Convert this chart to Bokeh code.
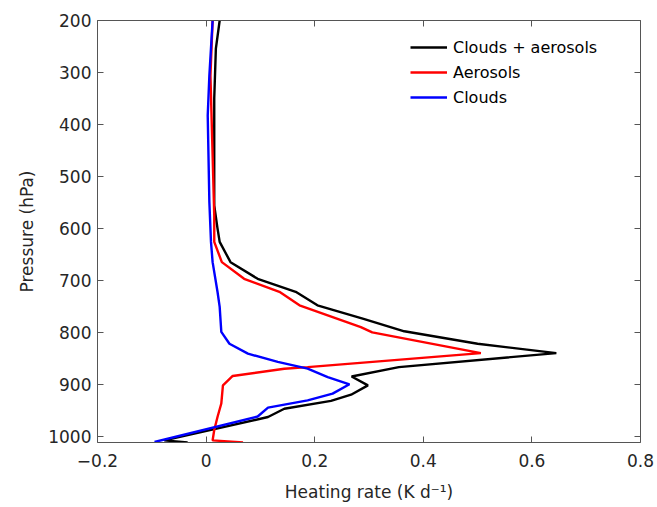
from bokeh.plotting import figure
from bokeh.models import Range1d, FixedTicker, LinearAxis, Legend, LegendItem
from bokeh.embed import file_html
from bokeh.resources import INLINE

# Clouds + aerosols
p_both = [200, 254, 350, 556, 600, 626, 665, 697, 722, 748, 774, 798, 822, 840, 867, 885, 902, 920, 932, 947, 963, 1008, 1012]
hr_both = [0.025, 0.018, 0.015, 0.015, 0.021, 0.025, 0.045, 0.095, 0.165, 0.205, 0.29, 0.365, 0.50, 0.645, 0.355, 0.268, 0.298, 0.267, 0.23, 0.144, 0.114, -0.077, -0.034]
# Aerosols
p_aer = [200, 306, 460, 575, 626, 665, 697, 722, 748, 790, 800, 840, 867, 870, 884, 902, 937, 963, 988, 1008, 1012]
hr_aer = [0.012, 0.008, 0.012, 0.015, 0.015, 0.029, 0.07, 0.135, 0.172, 0.285, 0.306, 0.506, 0.187, 0.144, 0.049, 0.031, 0.028, 0.021, 0.015, 0.012, 0.068]
# Clouds
p_cld = [200, 306, 383, 549, 626, 665, 722, 751, 799, 822, 841, 857, 870, 886, 900, 918, 931, 945, 962, 1011]
hr_cld = [0.012, 0.006, 0.003, 0.006, 0.009, 0.012, 0.021, 0.025, 0.028, 0.043, 0.077, 0.132, 0.187, 0.224, 0.264, 0.233, 0.187, 0.114, 0.095, -0.095]

x_ticks = [-0.2, 0, 0.2, 0.4, 0.6, 0.8]
x_labels = ["\u22120.2", "0", "0.2", "0.4", "0.6", "0.8"]
y_ticks = [200, 300, 400, 500, 600, 700, 800, 900, 1000]
names = ["Clouds + aerosols", "Aerosols", "Clouds"]
colors = ["#000000", "#ff0000", "#0000ff"]

FONT = "DejaVu Sans"
TXT = "#262626"
AX = "#555555"

p = figure(frame_width=543, frame_height=422, output_backend="svg", toolbar_location=None,
           x_range=Range1d(-0.2, 0.8), y_range=Range1d(1012, 200),
           min_border_left=97, min_border_right=17, min_border_top=20, min_border_bottom=65)
p.outline_line_color = None
p.grid.visible = False
p.background_fill_color = "white"
p.border_fill_color = "white"

r1 = p.line(hr_both, p_both, line_color=colors[0], line_width=2.4)
r2 = p.line(hr_aer, p_aer, line_color=colors[1], line_width=2.4)
r3 = p.line(hr_cld, p_cld, line_color=colors[2], line_width=2.4)

def style(ax):
    ax.axis_line_color = AX
    ax.major_tick_line_color = AX
    ax.major_tick_in = 6
    ax.major_tick_out = 0
    ax.minor_tick_line_color = None
    ax.major_label_text_font = FONT
    ax.major_label_text_font_size = "17px"
    ax.major_label_text_color = TXT
    ax.axis_label_text_font = FONT
    ax.axis_label_text_font_size = "17px"
    ax.axis_label_text_color = TXT
    ax.axis_label_text_font_style = "normal"

xa = p.xaxis[0]
xa.ticker = FixedTicker(ticks=x_ticks)
xa.major_label_overrides = {t: l for t, l in zip(x_ticks, x_labels)}
xa.axis_label = "Heating rate (K d\u207b\u00b9)"
style(xa)
xa.major_label_standoff = 11
xa.axis_label_standoff = 12

ya = p.yaxis[0]
ya.ticker = FixedTicker(ticks=y_ticks)
ya.axis_label = "Pressure (hPa)"
style(ya)
ya.major_label_standoff = 6
ya.axis_label_standoff = 8

top = LinearAxis(ticker=FixedTicker(ticks=x_ticks))
style(top)
top.major_label_overrides = {t: "" for t in x_ticks}
top.major_label_standoff = 0
p.add_layout(top, "above")
right = LinearAxis(ticker=FixedTicker(ticks=y_ticks))
style(right)
right.major_label_overrides = {t: "" for t in y_ticks}
right.major_label_standoff = 0
p.add_layout(right, "right")

legend = Legend(items=[LegendItem(label=names[0], renderers=[r1]),
                       LegendItem(label=names[1], renderers=[r2]),
                       LegendItem(label=names[2], renderers=[r3])],
                location=(303, 325))
legend.border_line_alpha = 0
legend.background_fill_alpha = 0
legend.label_text_font = FONT
legend.label_text_font_size = "16px"
legend.label_text_color = "#000000"
legend.glyph_width = 37
legend.glyph_height = 20
legend.label_height = 20
legend.spacing = 5
legend.padding = 10
legend.label_standoff = 6
legend.margin = 0
p.add_layout(legend, "center")

open("out.html", "w").write(file_html(p, INLINE))
